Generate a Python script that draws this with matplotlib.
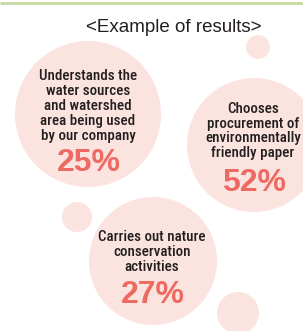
import matplotlib
matplotlib.use("Agg")
import matplotlib.pyplot as plt
from matplotlib.patches import Circle

# data
title = "<Example of results>"
labels = [
    "Understands the\nwater sources\nand watershed\narea being used\nby our company",
    "Chooses\nprocurement of\nenvironmentally\nfriendly paper",
    "Carries out nature\nconservation\nactivities",
]
percents = [25, 52, 27]

# layout (pixels): centre x, centre y, radius, label x, label y, percent y
big = [(88, 114, 73, 88, 106, 163), (254, 145, 67, 253, 131, 183), (153, 261, 64, 152, 252, 295)]
small = [(258, 47, 12), (77, 217, 15), (238, 313, 21)]

PINK = "#fbe4df"
RED = "#ec6a62"
INK = "#231f20"
narrow = ["Roboto Condensed", "Archivo Narrow", "Liberation Sans Narrow", "DejaVu Sans"]
plain = ["Liberation Sans", "DejaVu Sans"]

fig = plt.figure(figsize=(3.03, 3.31), dpi=100)
ax = fig.add_axes([0, 0, 1, 1])
ax.set_xlim(0, 303)
ax.set_ylim(331, 0)
ax.set_aspect("equal")
ax.axis("off")

ax.plot([0, 303], [2.5, 2.5], color="#c4dba0", lw=2, solid_capstyle="butt")

for x, y, r in small:
    ax.add_patch(Circle((x, y), r, color=PINK, lw=0))

for (x, y, r, lx, ly, py), lab, p in zip(big, labels, percents):
    ax.add_patch(Circle((x, y), r, color=PINK, lw=0))
    ax.text(lx, ly, lab, ha="center", va="center", fontsize=10.8,
            family=narrow, weight="medium", color=INK, linespacing=1.07)
    ax.text(lx + 1, py, f"{p}%", ha="center", va="center", fontsize=23,
            weight="bold", family=plain, color=RED)

ax.text(174, 27, title, ha="center", va="center", fontsize=13.5,
        family=plain, color=INK)

fig.savefig("out.png", dpi=100)
